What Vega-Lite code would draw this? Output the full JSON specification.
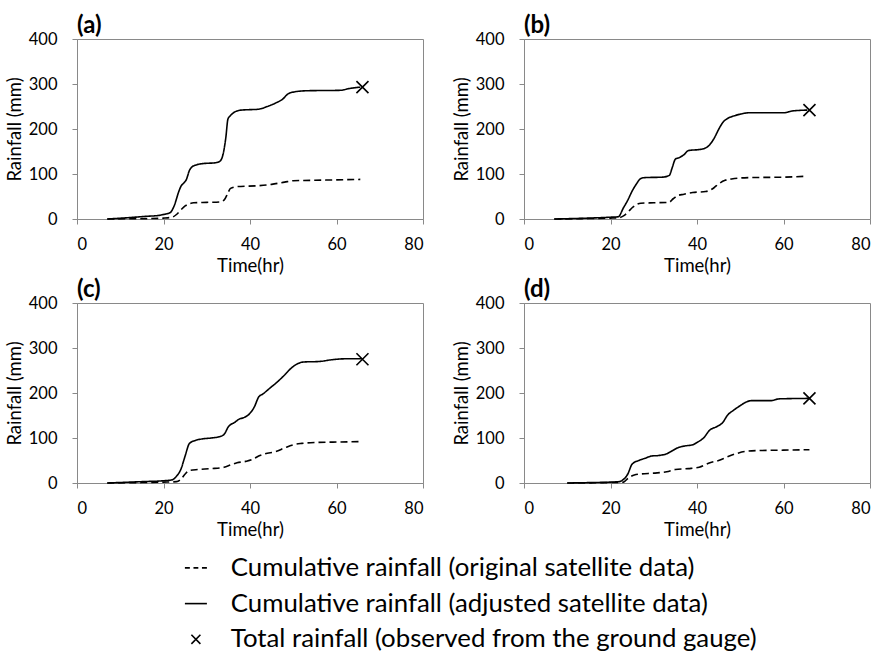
{
  "$schema": "https://vega.github.io/schema/vega-lite/v6.json",
  "background": "white",
  "padding": {"left": 4, "top": 13, "right": 0, "bottom": 0},
  "config": {
    "view": {"stroke": "#898989", "strokeWidth": 1},
    "axis": {
      "grid": false,
      "domainColor": "#898989",
      "tickColor": "#898989",
      "tickSize": 5,
      "labelFont": "Lato",
      "labelFontSize": 16.5,
      "labelColor": "black",
      "titleFont": "Lato",
      "titleFontSize": 18.5,
      "titleFontWeight": "normal",
      "titleColor": "black"
    },
    "header": {
      "title": null,
      "labelFont": "Lato",
      "labelFontSize": 24,
      "labelFontWeight": "bold",
      "labelColor": "black",
      "labelAnchor": "start",
      "labelPadding": -7
    }
  },
  "data": {
    "values": [
      {"p": "(a)", "s": "o", "t": 7, "v": 0},
      {"p": "(a)", "s": "o", "t": 12, "v": 0.5},
      {"p": "(a)", "s": "o", "t": 17, "v": 1},
      {"p": "(a)", "s": "o", "t": 20, "v": 2},
      {"p": "(a)", "s": "o", "t": 22, "v": 4},
      {"p": "(a)", "s": "o", "t": 23, "v": 10},
      {"p": "(a)", "s": "o", "t": 24, "v": 20},
      {"p": "(a)", "s": "o", "t": 25, "v": 29},
      {"p": "(a)", "s": "o", "t": 26, "v": 34},
      {"p": "(a)", "s": "o", "t": 27, "v": 36},
      {"p": "(a)", "s": "o", "t": 30, "v": 37},
      {"p": "(a)", "s": "o", "t": 33, "v": 38},
      {"p": "(a)", "s": "o", "t": 34, "v": 42},
      {"p": "(a)", "s": "o", "t": 35, "v": 60},
      {"p": "(a)", "s": "o", "t": 35.5, "v": 68},
      {"p": "(a)", "s": "o", "t": 37, "v": 72},
      {"p": "(a)", "s": "o", "t": 42, "v": 74},
      {"p": "(a)", "s": "o", "t": 45, "v": 77},
      {"p": "(a)", "s": "o", "t": 48, "v": 82},
      {"p": "(a)", "s": "o", "t": 50, "v": 85},
      {"p": "(a)", "s": "o", "t": 55, "v": 86},
      {"p": "(a)", "s": "o", "t": 60, "v": 87},
      {"p": "(a)", "s": "o", "t": 65.5, "v": 88},
      {"p": "(a)", "s": "a", "t": 7, "v": 0},
      {"p": "(a)", "s": "a", "t": 12, "v": 3},
      {"p": "(a)", "s": "a", "t": 16, "v": 6},
      {"p": "(a)", "s": "a", "t": 19, "v": 8},
      {"p": "(a)", "s": "a", "t": 20, "v": 10},
      {"p": "(a)", "s": "a", "t": 21.5, "v": 14},
      {"p": "(a)", "s": "a", "t": 22.5, "v": 30},
      {"p": "(a)", "s": "a", "t": 23.5, "v": 60},
      {"p": "(a)", "s": "a", "t": 24, "v": 72},
      {"p": "(a)", "s": "a", "t": 24.7, "v": 80},
      {"p": "(a)", "s": "a", "t": 25.3, "v": 88},
      {"p": "(a)", "s": "a", "t": 26, "v": 108},
      {"p": "(a)", "s": "a", "t": 26.5, "v": 115},
      {"p": "(a)", "s": "a", "t": 27.5, "v": 120},
      {"p": "(a)", "s": "a", "t": 29, "v": 123},
      {"p": "(a)", "s": "a", "t": 32, "v": 125},
      {"p": "(a)", "s": "a", "t": 33, "v": 128},
      {"p": "(a)", "s": "a", "t": 33.8, "v": 145},
      {"p": "(a)", "s": "a", "t": 34.4, "v": 180},
      {"p": "(a)", "s": "a", "t": 34.9, "v": 222},
      {"p": "(a)", "s": "a", "t": 35.5, "v": 230},
      {"p": "(a)", "s": "a", "t": 36.5, "v": 238},
      {"p": "(a)", "s": "a", "t": 38, "v": 242},
      {"p": "(a)", "s": "a", "t": 42, "v": 244},
      {"p": "(a)", "s": "a", "t": 44, "v": 250},
      {"p": "(a)", "s": "a", "t": 46, "v": 258},
      {"p": "(a)", "s": "a", "t": 47.5, "v": 266},
      {"p": "(a)", "s": "a", "t": 48.8, "v": 278},
      {"p": "(a)", "s": "a", "t": 50, "v": 282},
      {"p": "(a)", "s": "a", "t": 53, "v": 285},
      {"p": "(a)", "s": "a", "t": 61, "v": 286},
      {"p": "(a)", "s": "a", "t": 63, "v": 290},
      {"p": "(a)", "s": "a", "t": 65.5, "v": 293},
      {"p": "(a)", "s": "x", "t": 66, "v": 293},
      {"p": "(b)", "s": "o", "t": 7, "v": 0},
      {"p": "(b)", "s": "o", "t": 15, "v": 1},
      {"p": "(b)", "s": "o", "t": 20, "v": 2},
      {"p": "(b)", "s": "o", "t": 22, "v": 3},
      {"p": "(b)", "s": "o", "t": 23, "v": 7},
      {"p": "(b)", "s": "o", "t": 24, "v": 15},
      {"p": "(b)", "s": "o", "t": 25, "v": 25},
      {"p": "(b)", "s": "o", "t": 26, "v": 32},
      {"p": "(b)", "s": "o", "t": 27, "v": 35},
      {"p": "(b)", "s": "o", "t": 30, "v": 36},
      {"p": "(b)", "s": "o", "t": 33.5, "v": 37},
      {"p": "(b)", "s": "o", "t": 34.5, "v": 45},
      {"p": "(b)", "s": "o", "t": 35.5, "v": 52},
      {"p": "(b)", "s": "o", "t": 37, "v": 55},
      {"p": "(b)", "s": "o", "t": 39, "v": 59},
      {"p": "(b)", "s": "o", "t": 42, "v": 61},
      {"p": "(b)", "s": "o", "t": 43, "v": 64},
      {"p": "(b)", "s": "o", "t": 44, "v": 70},
      {"p": "(b)", "s": "o", "t": 45, "v": 78},
      {"p": "(b)", "s": "o", "t": 46.5, "v": 86},
      {"p": "(b)", "s": "o", "t": 48, "v": 89},
      {"p": "(b)", "s": "o", "t": 52, "v": 92},
      {"p": "(b)", "s": "o", "t": 60, "v": 93},
      {"p": "(b)", "s": "o", "t": 65.5, "v": 95},
      {"p": "(b)", "s": "a", "t": 7, "v": 0},
      {"p": "(b)", "s": "a", "t": 15, "v": 2},
      {"p": "(b)", "s": "a", "t": 20, "v": 4},
      {"p": "(b)", "s": "a", "t": 21.8, "v": 5},
      {"p": "(b)", "s": "a", "t": 23, "v": 25},
      {"p": "(b)", "s": "a", "t": 24, "v": 42},
      {"p": "(b)", "s": "a", "t": 25, "v": 62},
      {"p": "(b)", "s": "a", "t": 26, "v": 78},
      {"p": "(b)", "s": "a", "t": 27, "v": 90},
      {"p": "(b)", "s": "a", "t": 28, "v": 92},
      {"p": "(b)", "s": "a", "t": 32, "v": 93},
      {"p": "(b)", "s": "a", "t": 33.6, "v": 97},
      {"p": "(b)", "s": "a", "t": 34.3, "v": 115},
      {"p": "(b)", "s": "a", "t": 35, "v": 133},
      {"p": "(b)", "s": "a", "t": 36, "v": 137},
      {"p": "(b)", "s": "a", "t": 37, "v": 143},
      {"p": "(b)", "s": "a", "t": 38, "v": 152},
      {"p": "(b)", "s": "a", "t": 41, "v": 155},
      {"p": "(b)", "s": "a", "t": 42.5, "v": 161},
      {"p": "(b)", "s": "a", "t": 44, "v": 180},
      {"p": "(b)", "s": "a", "t": 45, "v": 199},
      {"p": "(b)", "s": "a", "t": 46, "v": 215},
      {"p": "(b)", "s": "a", "t": 47, "v": 223},
      {"p": "(b)", "s": "a", "t": 48.5, "v": 229},
      {"p": "(b)", "s": "a", "t": 50, "v": 233},
      {"p": "(b)", "s": "a", "t": 52, "v": 236},
      {"p": "(b)", "s": "a", "t": 60, "v": 236},
      {"p": "(b)", "s": "a", "t": 62, "v": 240},
      {"p": "(b)", "s": "a", "t": 65.5, "v": 242},
      {"p": "(b)", "s": "x", "t": 66, "v": 242},
      {"p": "(c)", "s": "o", "t": 7, "v": 0},
      {"p": "(c)", "s": "o", "t": 15, "v": 1},
      {"p": "(c)", "s": "o", "t": 20, "v": 2},
      {"p": "(c)", "s": "o", "t": 23, "v": 3},
      {"p": "(c)", "s": "o", "t": 24, "v": 8},
      {"p": "(c)", "s": "o", "t": 25, "v": 20},
      {"p": "(c)", "s": "o", "t": 26, "v": 28},
      {"p": "(c)", "s": "o", "t": 28, "v": 30},
      {"p": "(c)", "s": "o", "t": 31, "v": 32},
      {"p": "(c)", "s": "o", "t": 34, "v": 35},
      {"p": "(c)", "s": "o", "t": 35.5, "v": 40},
      {"p": "(c)", "s": "o", "t": 37, "v": 45},
      {"p": "(c)", "s": "o", "t": 39, "v": 48},
      {"p": "(c)", "s": "o", "t": 40.5, "v": 52},
      {"p": "(c)", "s": "o", "t": 42, "v": 60},
      {"p": "(c)", "s": "o", "t": 43.5, "v": 65},
      {"p": "(c)", "s": "o", "t": 46, "v": 70},
      {"p": "(c)", "s": "o", "t": 48, "v": 78},
      {"p": "(c)", "s": "o", "t": 50, "v": 85},
      {"p": "(c)", "s": "o", "t": 52, "v": 88},
      {"p": "(c)", "s": "o", "t": 55, "v": 90},
      {"p": "(c)", "s": "o", "t": 60, "v": 91},
      {"p": "(c)", "s": "o", "t": 66, "v": 92},
      {"p": "(c)", "s": "a", "t": 7, "v": 0},
      {"p": "(c)", "s": "a", "t": 15, "v": 3},
      {"p": "(c)", "s": "a", "t": 20, "v": 5},
      {"p": "(c)", "s": "a", "t": 22, "v": 7},
      {"p": "(c)", "s": "a", "t": 23, "v": 15},
      {"p": "(c)", "s": "a", "t": 24, "v": 30},
      {"p": "(c)", "s": "a", "t": 25, "v": 60},
      {"p": "(c)", "s": "a", "t": 26, "v": 88},
      {"p": "(c)", "s": "a", "t": 27.5, "v": 95},
      {"p": "(c)", "s": "a", "t": 29, "v": 98},
      {"p": "(c)", "s": "a", "t": 31, "v": 100},
      {"p": "(c)", "s": "a", "t": 33, "v": 103},
      {"p": "(c)", "s": "a", "t": 34, "v": 108},
      {"p": "(c)", "s": "a", "t": 35, "v": 125},
      {"p": "(c)", "s": "a", "t": 36.5, "v": 135},
      {"p": "(c)", "s": "a", "t": 37.5, "v": 142},
      {"p": "(c)", "s": "a", "t": 38.5, "v": 145},
      {"p": "(c)", "s": "a", "t": 40, "v": 155},
      {"p": "(c)", "s": "a", "t": 41, "v": 169},
      {"p": "(c)", "s": "a", "t": 42, "v": 191},
      {"p": "(c)", "s": "a", "t": 43, "v": 198},
      {"p": "(c)", "s": "a", "t": 44.5, "v": 210},
      {"p": "(c)", "s": "a", "t": 46, "v": 222},
      {"p": "(c)", "s": "a", "t": 48, "v": 240},
      {"p": "(c)", "s": "a", "t": 49.5, "v": 255},
      {"p": "(c)", "s": "a", "t": 51, "v": 265},
      {"p": "(c)", "s": "a", "t": 52.5, "v": 269},
      {"p": "(c)", "s": "a", "t": 56, "v": 270},
      {"p": "(c)", "s": "a", "t": 59, "v": 274},
      {"p": "(c)", "s": "a", "t": 62, "v": 276},
      {"p": "(c)", "s": "a", "t": 66, "v": 276},
      {"p": "(c)", "s": "x", "t": 66, "v": 275},
      {"p": "(d)", "s": "o", "t": 10, "v": 0},
      {"p": "(d)", "s": "o", "t": 20, "v": 1},
      {"p": "(d)", "s": "o", "t": 23, "v": 2},
      {"p": "(d)", "s": "o", "t": 24, "v": 10},
      {"p": "(d)", "s": "o", "t": 25.5, "v": 18},
      {"p": "(d)", "s": "o", "t": 27, "v": 20},
      {"p": "(d)", "s": "o", "t": 30, "v": 22},
      {"p": "(d)", "s": "o", "t": 33, "v": 25},
      {"p": "(d)", "s": "o", "t": 35, "v": 30},
      {"p": "(d)", "s": "o", "t": 38, "v": 32},
      {"p": "(d)", "s": "o", "t": 40.5, "v": 35},
      {"p": "(d)", "s": "o", "t": 43, "v": 45},
      {"p": "(d)", "s": "o", "t": 45, "v": 50},
      {"p": "(d)", "s": "o", "t": 47, "v": 58},
      {"p": "(d)", "s": "o", "t": 49, "v": 65},
      {"p": "(d)", "s": "o", "t": 51, "v": 70},
      {"p": "(d)", "s": "o", "t": 54, "v": 72},
      {"p": "(d)", "s": "o", "t": 60, "v": 73},
      {"p": "(d)", "s": "o", "t": 66, "v": 74},
      {"p": "(d)", "s": "a", "t": 10, "v": 0},
      {"p": "(d)", "s": "a", "t": 16, "v": 1},
      {"p": "(d)", "s": "a", "t": 20, "v": 2},
      {"p": "(d)", "s": "a", "t": 22, "v": 3},
      {"p": "(d)", "s": "a", "t": 23, "v": 8},
      {"p": "(d)", "s": "a", "t": 24, "v": 20},
      {"p": "(d)", "s": "a", "t": 25, "v": 42},
      {"p": "(d)", "s": "a", "t": 26.5, "v": 50},
      {"p": "(d)", "s": "a", "t": 28, "v": 55},
      {"p": "(d)", "s": "a", "t": 29.5, "v": 60},
      {"p": "(d)", "s": "a", "t": 31, "v": 61},
      {"p": "(d)", "s": "a", "t": 33, "v": 65},
      {"p": "(d)", "s": "a", "t": 34, "v": 70},
      {"p": "(d)", "s": "a", "t": 35.5, "v": 78},
      {"p": "(d)", "s": "a", "t": 37, "v": 82},
      {"p": "(d)", "s": "a", "t": 39, "v": 85},
      {"p": "(d)", "s": "a", "t": 40, "v": 90},
      {"p": "(d)", "s": "a", "t": 41.5, "v": 100},
      {"p": "(d)", "s": "a", "t": 43, "v": 118},
      {"p": "(d)", "s": "a", "t": 44.5, "v": 125},
      {"p": "(d)", "s": "a", "t": 46, "v": 135},
      {"p": "(d)", "s": "a", "t": 47, "v": 150},
      {"p": "(d)", "s": "a", "t": 48.5, "v": 162},
      {"p": "(d)", "s": "a", "t": 50, "v": 172},
      {"p": "(d)", "s": "a", "t": 51, "v": 178},
      {"p": "(d)", "s": "a", "t": 52.5, "v": 183},
      {"p": "(d)", "s": "a", "t": 57, "v": 183},
      {"p": "(d)", "s": "a", "t": 59, "v": 187},
      {"p": "(d)", "s": "a", "t": 66, "v": 188},
      {"p": "(d)", "s": "x", "t": 66, "v": 188}
    ]
  },
  "facet": {"field": "p", "type": "nominal", "title": null},
  "columns": 2,
  "bounds": "flush",
  "spacing": {"row": 84, "column": 101},
  "resolve": {"axis": {"x": "independent", "y": "independent"}},
  "spec": {
    "width": 346,
    "height": 180,
    "encoding": {
      "x": {
        "field": "t",
        "type": "quantitative",
        "scale": {"domain": [0, 80], "nice": false},
        "axis": {"values": [0, 20, 40, 60, 80], "title": "Time(hr)", "labelPadding": 12, "titlePadding": 4}
      },
      "y": {
        "field": "v",
        "type": "quantitative",
        "scale": {"domain": [0, 400], "nice": false},
        "axis": {"values": [0, 100, 200, 300, 400], "title": "Rainfall (mm)", "labelPadding": 15, "titlePadding": 4}
      }
    },
    "layer": [
      {
        "transform": [{"filter": "datum.s !== 'x'"}],
        "mark": {"type": "line", "interpolate": "monotone", "color": "black", "strokeWidth": 1.6},
        "encoding": {
          "strokeDash": {
            "field": "s",
            "type": "nominal",
            "scale": {"domain": ["o", "a"], "range": [[7, 4], [1, 0]]},
            "legend": null
          }
        }
      },
      {
        "transform": [{"filter": "datum.s === 'x'"}],
        "mark": {"type": "point", "filled": false, "color": "black", "size": 860, "strokeWidth": 1.6, "opacity": 1},
        "encoding": {
          "shape": {
            "field": "s",
            "type": "nominal",
            "scale": {
              "domain": ["o", "a", "x"],
              "range": [
                "M-1,0H-0.55M-0.22,0H0.22M0.55,0H1",
                "M-1,0H1",
                "M-0.41,-0.41L0.41,0.41M-0.41,0.41L0.41,-0.41"
              ]
            },
            "legend": {
              "title": null,
              "orient": "none",
              "legendX": 106,
              "legendY": 516,
              "padding": 0,
              "direction": "vertical",
              "labelExpr": "datum.value === 'o' ? 'Cumulative rainfall (original satellite data)' : datum.value === 'a' ? 'Cumulative rainfall (adjusted satellite data)' : 'Total rainfall (observed from the ground gauge)'",
              "labelFont": "Lato",
              "labelFontSize": 25.8,
              "labelColor": "black",
              "labelLimit": 0,
              "labelOffset": 22,
              "rowPadding": 8.7,
              "symbolSize": 484,
              "symbolStrokeColor": "black",
              "symbolStrokeWidth": 1.6,
              "symbolFillColor": "transparent",
              "symbolOpacity": 1
            }
          }
        }
      }
    ]
  }
}
